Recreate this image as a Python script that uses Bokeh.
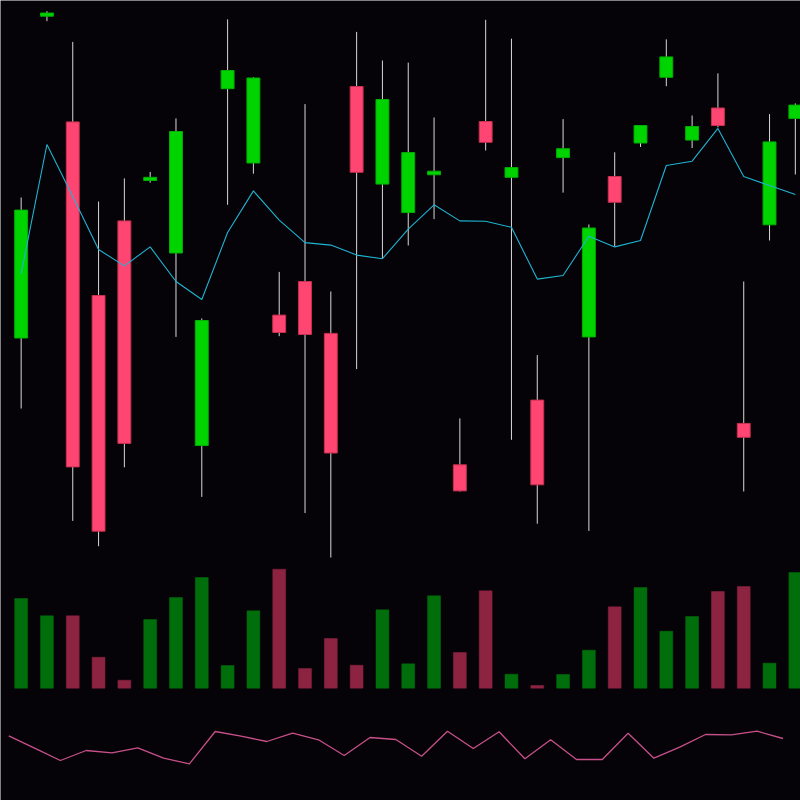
from bokeh.plotting import figure
from bokeh.models import Range1d, ColumnDataSource, LinearAxis
from bokeh.embed import file_html
from bokeh.resources import INLINE

# ---- data ----
opens  = [26.25, 58.43, 47.86, 30.50, 37.96, 42.00, 34.75, 15.50, 51.18, 43.75,
          28.54, 31.90, 26.71, 51.40, 41.64, 38.79, 42.57, 13.57, 47.90, 42.32,
          20.04, 44.29, 26.36, 42.40, 45.75, 52.32, 46.04, 49.25, 17.71, 37.57, 48.21]
highs  = [40.30, 58.93, 55.86, 39.90, 42.21, 42.86, 48.21, 28.21, 58.11, 52.32,
          32.86, 49.64, 30.90, 56.86, 54.00, 53.79, 48.30, 18.21, 58.07, 56.18,
          24.54, 48.14, 37.60, 44.82, 47.50, 56.11, 48.50, 52.71, 31.90, 48.64, 49.71]
lows   = [19.20, 57.93, 7.96, 5.43, 13.32, 41.79, 26.36, 10.36, 39.57, 42.68,
          26.43, 8.75, 4.30, 23.14, 34.21, 35.50, 38.14, 10.90, 45.00, 16.07,
          7.68, 40.79, 6.96, 35.43, 45.36, 51.43, 45.25, 47.32, 10.90, 36.00, 42.60]
closes = [39.04, 58.75, 13.36, 6.93, 15.71, 42.32, 46.90, 28.00, 53.00, 52.25,
          26.80, 26.60, 14.75, 42.82, 50.10, 44.79, 42.93, 10.96, 45.82, 43.29,
          11.57, 45.18, 37.25, 39.82, 47.50, 54.36, 47.40, 47.50, 16.32, 45.86, 49.54]
ma     = [32.68, 45.60, 40.40, 35.10, 33.46, 35.36, 31.90, 30.10, 36.80, 40.96,
          38.04, 35.79, 35.54, 34.54, 34.18, 37.14, 39.57, 37.96, 37.93, 37.32,
          32.14, 32.50, 36.43, 35.36, 36.00, 43.50, 43.93, 47.21, 42.40, 41.50, 40.60]
volume = [89700, 72400, 72400, 31000, 8000, 68700, 90700, 110700, 22700, 77400,
          119000, 19700, 49700, 23000, 78400, 24400, 92400, 35700, 97400, 14000,
          2700, 13700, 38000, 81400, 100700, 57000, 71700, 96700, 101700, 25000, 115700]
osc    = [64.7, 52.4, 40.0, 50.0, 47.7, 52.7, 42.3, 36.7, 69.0, 64.3,
          59.0, 67.3, 60.7, 45.0, 63.0, 61.0, 44.3, 69.3, 52.0, 68.7,
          41.7, 60.7, 41.0, 41.0, 67.3, 42.3, 53.3, 66.0, 65.7, 69.3, 62.0]

n = len(opens)
idx = list(range(n))
up = [c >= o for o, c in zip(opens, closes)]

BG = "#050307"
G_BODY, R_BODY = "#00d400", "#ff4673"
G_EDGE, R_EDGE = "#00b000", "#c8304f"
G_VOL, R_VOL = "#006e0a", "#8c2341"

src = ColumnDataSource(dict(
    x=idx,
    high=highs, low=lows,
    top=[max(o, c) for o, c in zip(opens, closes)],
    bottom=[min(o, c) for o, c in zip(opens, closes)],
    body=[G_BODY if u else R_BODY for u in up],
    edge=[G_EDGE if u else R_EDGE for u in up],
    volc=[G_VOL if u else R_VOL for u in up],
    vol=volume, ma=ma,
))
osc_src = ColumnDataSource(dict(x=[i - 0.48 for i in idx], y=osc))

p = figure(width=800, height=800, output_backend="svg", toolbar_location=None,
           x_range=Range1d(-0.8, 30.2), y_range=Range1d(-20, 60),
           background_fill_color=BG, border_fill_color=BG,
           min_border=0, min_border_left=0, min_border_right=0,
           min_border_top=0, min_border_bottom=0, outline_line_color=None)
p.axis.visible = False
p.grid.visible = False

p.extra_y_ranges = {"vol": Range1d(-112300, 687700), "osc": Range1d(0, 800)}

# volume
p.vbar(x="x", width=0.5, top="vol", bottom=0, fill_color="volc", line_color="volc",
       line_width=0.5, source=src, y_range_name="vol")
# indicator line
p.line("x", "y", source=osc_src, line_color="#c8508a", line_width=1.3, y_range_name="osc")

# candles
p.segment(x0="x", x1="x", y0="high", y1="low", line_color="#d8d8d8", line_width=1, source=src)
p.vbar(x="x", width=0.5, top="top", bottom="bottom", fill_color="body",
       line_color="edge", line_width=1, source=src)
# moving average
p.line("x", "ma", source=src, line_color="#1fb4d2", line_width=1.1)

open("out.html", "w").write(file_html(p, INLINE))
